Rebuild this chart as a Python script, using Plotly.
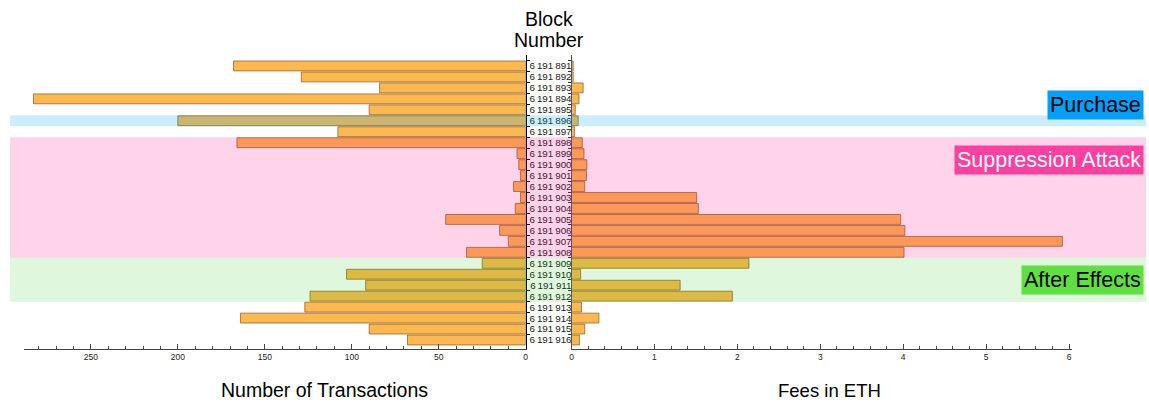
import plotly.graph_objects as go

W, H = 1149, 402

blocks = ["6\u2009191\u2009%d" % n for n in range(891, 917)]
transactions = [168, 129, 84, 283, 90, 200, 108, 166, 5, 4, 3, 7, 3, 6,
                46, 15, 10, 34, 25, 103, 92, 124, 127, 164, 90, 68]
fees = [0.02, 0.02, 0.14, 0.09, 0.045, 0.08, 0.035, 0.13, 0.15, 0.185, 0.18, 0.16,
        1.51, 1.53, 3.97, 4.02, 5.92, 4.01, 2.14, 0.11, 1.31, 1.94, 0.12, 0.33, 0.16, 0.095]

# phases: label, first/last block index, band colour, opacity, box colour, text colour, box centre (px)
phases = [
    ("Purchase", 5, 5, "rgb(0,170,240)", 0.20, "rgb(0,160,250)", "black", 105),
    ("Suppression Attack", 7, 17, "rgb(255,0,128)", 0.17, "rgb(255,64,160)", "white", 160),
    ("After Effects", 18, 21, "rgb(30,200,10)", 0.14, "rgb(96,224,64)", "black", 279.5),
]

FONT = "Liberation Sans, Arial, sans-serif"
bar_color = "rgb(253,185,80)"
bar_line = "rgba(140,95,40,0.75)"

# pixel layout
top, bottom = 55, 349
lx0, lx1 = 22, 526
rx0, rx1 = 572, 1075

def px_x(p):
    return p / W

def px_y(p):
    return (bottom - p) / (bottom - top)

fig = go.Figure()
fig.add_trace(go.Bar(x=transactions, y=blocks, orientation="h", xaxis="x", yaxis="y",
                     marker=dict(color=bar_color, line=dict(color=bar_line, width=1)),
                     showlegend=False, hoverinfo="skip"))
fig.add_trace(go.Bar(x=fees, y=blocks, orientation="h", xaxis="x2", yaxis="y2",
                     marker=dict(color=bar_color, line=dict(color=bar_line, width=1)),
                     showlegend=False, hoverinfo="skip"))

n = len(blocks)
yrange = [n - 0.5 + 0.32, -1.0]

fig.update_layout(
    width=W, height=H,
    margin=dict(l=0, r=0, t=top, b=H - bottom),
    paper_bgcolor="white", plot_bgcolor="rgba(0,0,0,0)",
    bargap=0.1,
    font=dict(family=FONT, color="black"),
    xaxis=dict(domain=[px_x(lx0), px_x(lx1)], range=[288.5, 0], anchor="y",
               showgrid=False, zeroline=False, showline=True, linecolor="#444", linewidth=1,
               ticks="inside", ticklen=5, tickcolor="#444", dtick=50, tick0=0,
               tickfont=dict(size=8.5, color="#222"),
               minor=dict(dtick=10, ticks="inside", ticklen=3, tickcolor="#444")),
    xaxis2=dict(domain=[px_x(rx0), px_x(rx1)], range=[0, 6.04], anchor="y2",
                showgrid=False, zeroline=False, showline=True, linecolor="#444", linewidth=1,
                ticks="inside", ticklen=5, tickcolor="#444", dtick=1, tick0=0,
                tickfont=dict(size=8.5, color="#222"),
                minor=dict(dtick=0.2, ticks="inside", ticklen=3, tickcolor="#444")),
    yaxis=dict(domain=[0, 1], anchor="x", side="right", type="category",
               categoryorder="array", categoryarray=blocks, range=yrange,
               tickmode="linear", tick0=0, dtick=1,
               showgrid=False, zeroline=False, showline=True, linecolor="black", linewidth=1,
               ticks="outside", tickson="boundaries", ticklen=3, tickcolor="black",
               showticklabels=False),
    yaxis2=dict(domain=[0, 1], anchor="x2", side="left", type="category",
                categoryorder="array", categoryarray=blocks, range=yrange, matches="y",
                tickmode="linear", tick0=0, dtick=1,
                showgrid=False, zeroline=False, showline=True, linecolor="#555", linewidth=1,
                ticks="outside", tickson="boundaries", ticklen=3, tickcolor="#333",
                ticklabelstandoff=-3,
                tickfont=dict(size=9.8, color="#222"), showticklabels=True),
)

shapes = []
annotations = []
for label, i0, i1, band, op, box, tc, cy in phases:
    shapes.append(dict(type="rect", xref="paper", yref="y", x0=px_x(8), x1=1,
                       y0=i0 - 0.5, y1=i1 + 0.5, fillcolor=band, opacity=op,
                       line=dict(width=0), layer="above"))
    annotations.append(dict(text=label, xref="paper", yref="paper", x=px_x(1147), y=px_y(cy),
                            xanchor="right", yanchor="middle", showarrow=False,
                            bgcolor=box, borderpad=2,
                            font=dict(size=21.5, color=tc, family=FONT)))

annotations += [
    dict(text="Block", xref="paper", yref="paper", x=px_x(549), y=px_y(19), xanchor="center",
         yanchor="middle", showarrow=False, font=dict(size=19.5, family=FONT)),
    dict(text="Number", xref="paper", yref="paper", x=px_x(549), y=px_y(40), xanchor="center",
         yanchor="middle", showarrow=False, font=dict(size=19.5, family=FONT)),
    dict(text="Number of Transactions", xref="paper", yref="paper", x=px_x(324), y=px_y(390),
         xanchor="center", yanchor="middle", showarrow=False, font=dict(size=19.5, family=FONT)),
    dict(text="Fees in ETH", xref="paper", yref="paper", x=px_x(831), y=px_y(390),
         xanchor="center", yanchor="middle", showarrow=False, font=dict(size=18.5, family=FONT)),
]
fig.update_layout(shapes=shapes, annotations=annotations)

fig.write_html("out.html",
               config={"displayModeBar": False},
               post_script="document.body.style.margin='0px';"
                           "document.documentElement.style.overflow='hidden';")
